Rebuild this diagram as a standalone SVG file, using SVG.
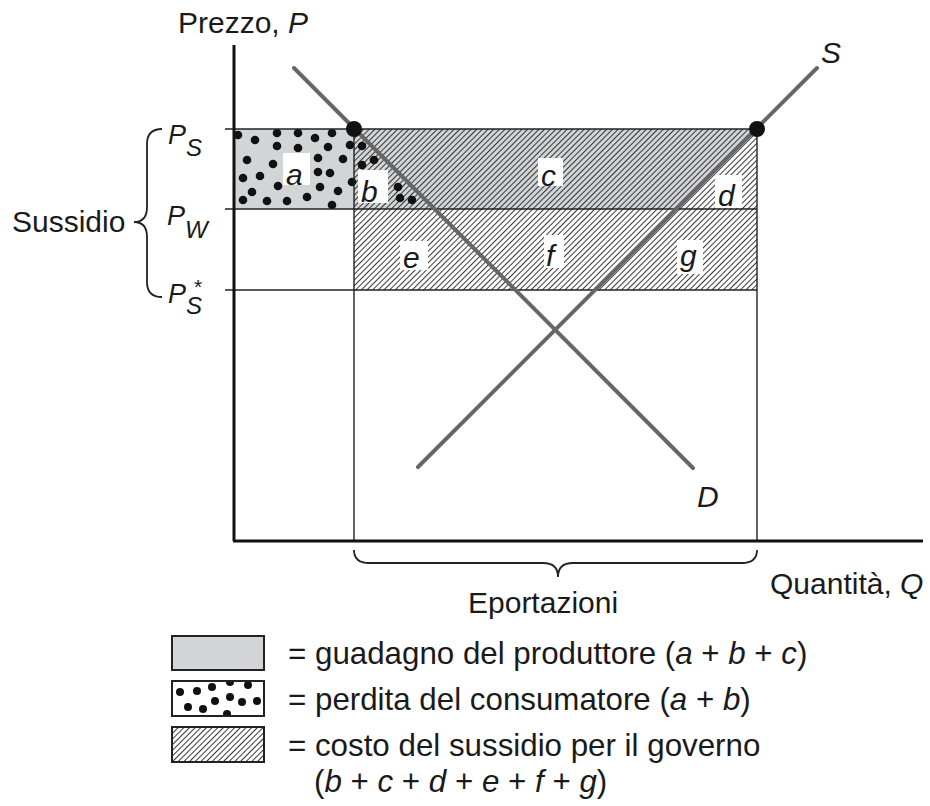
<svg xmlns="http://www.w3.org/2000/svg" width="930" height="806" viewBox="0 0 930 806">
<defs>
<pattern id="hatch" patternUnits="userSpaceOnUse" width="4" height="4" patternTransform="rotate(45)">
<line x1="0.5" y1="0" x2="0.5" y2="4" stroke="#222" stroke-width="0.9"/>
</pattern>
<clipPath id="dotclip"><polygon points="234,129 354,129 435,209 234,209"/></clipPath>
<clipPath id="legclip"><rect x="172" y="681" width="92" height="35"/></clipPath>
</defs>
<style>
text{font-family:"Liberation Sans",Arial,sans-serif;fill:#1a1a1a}
.t{font-size:30px}
.lg{font-size:31.3px}
.i{font-style:italic}
.lbl{font-size:30px;font-style:italic}
.pl{font-size:27px;font-style:italic}
.sub{font-size:24px}
.ax{stroke:#111;stroke-width:3;fill:none}
.thin{stroke:#222;stroke-width:1.4;fill:none}
.curve{stroke:#666;stroke-width:4;fill:none;stroke-linecap:round}
.dot{fill:#111}
.wb{fill:#fff}
.brace{stroke:#222;stroke-width:1.8;fill:none}
</style>
<rect width="930" height="806" fill="#fff"/>

<g id="areas">
<polygon points="234,129 757,129 676,209 234,209" fill="#d3d4d6"/>
<rect x="354" y="129" width="403" height="161" fill="url(#hatch)"/>
<g clip-path="url(#dotclip)">
<circle class="dot" cx="238" cy="135" r="4.3"/><circle class="dot" cx="255" cy="140" r="4.3"/>
<circle class="dot" cx="277" cy="133" r="4.3"/><circle class="dot" cx="298" cy="133" r="4.3"/>
<circle class="dot" cx="315" cy="138" r="4.3"/><circle class="dot" cx="332" cy="133" r="4.3"/>
<circle class="dot" cx="350" cy="145" r="4.3"/><circle class="dot" cx="277" cy="146" r="4.3"/>
<circle class="dot" cx="298" cy="148" r="4.3"/><circle class="dot" cx="328" cy="147" r="4.3"/>
<circle class="dot" cx="362" cy="146" r="4.3"/><circle class="dot" cx="247" cy="160" r="4.3"/>
<circle class="dot" cx="273" cy="164" r="4.3"/><circle class="dot" cx="318" cy="158" r="4.3"/>
<circle class="dot" cx="343" cy="159" r="4.3"/><circle class="dot" cx="362" cy="165" r="4.3"/>
<circle class="dot" cx="374" cy="160" r="4.3"/><circle class="dot" cx="243" cy="178" r="4.3"/>
<circle class="dot" cx="260" cy="176" r="4.3"/><circle class="dot" cx="318" cy="172" r="4.3"/>
<circle class="dot" cx="330" cy="173" r="4.3"/><circle class="dot" cx="278" cy="186" r="4.3"/>
<circle class="dot" cx="320" cy="187" r="4.3"/><circle class="dot" cx="338" cy="191" r="4.3"/>
<circle class="dot" cx="352" cy="182" r="4.3"/><circle class="dot" cx="252" cy="192" r="4.3"/>
<circle class="dot" cx="243" cy="200" r="4.3"/><circle class="dot" cx="267" cy="201" r="4.3"/>
<circle class="dot" cx="287" cy="201" r="4.3"/><circle class="dot" cx="307" cy="197" r="4.3"/>
<circle class="dot" cx="332" cy="205" r="4.3"/><circle class="dot" cx="398" cy="187" r="4.3"/>
<circle class="dot" cx="400" cy="198" r="4.3"/><circle class="dot" cx="412" cy="200" r="4.3"/>
</g>
</g>

<g id="grid">
<line class="thin" x1="225" y1="129" x2="757" y2="129"/>
<line class="thin" x1="225" y1="209" x2="757" y2="209"/>
<line class="thin" x1="225" y1="290" x2="757" y2="290"/>
<line class="thin" x1="354" y1="129" x2="354" y2="541"/>
<line class="thin" x1="757" y1="129" x2="757" y2="541"/>
</g>

<g id="axes">
<line class="ax" x1="234" y1="45" x2="234" y2="541"/>
<line class="ax" x1="233" y1="541" x2="923" y2="541"/>
<text class="t" x="178" y="33">Prezzo, <tspan class="i">P</tspan></text>
<text class="t" x="770" y="594">Quantità, <tspan class="i">Q</tspan></text>
</g>

<g id="connectors">
<line id="demand" class="curve" x1="294" y1="68" x2="693" y2="468"/>
<line id="supply" class="curve" x1="418" y1="467" x2="817" y2="68"/>
<circle cx="354" cy="129" r="8" fill="#111"/>
<circle cx="757" cy="129" r="8" fill="#111"/>
<text class="lbl" x="821" y="63">S</text>
<text class="lbl" x="697" y="507">D</text>
</g>

<g id="region-labels">
<rect class="wb" x="283" y="153" width="27" height="32"/>
<text class="lbl" x="286" y="185">a</text>
<rect class="wb" x="358" y="170" width="30" height="33"/>
<text class="lbl" x="361" y="202">b</text>
<rect class="wb" x="538" y="158" width="25" height="28"/>
<text class="lbl" x="541" y="186">c</text>
<rect class="wb" x="715" y="175" width="27" height="33"/>
<text class="lbl" x="718" y="206">d</text>
<rect class="wb" x="400" y="241" width="28" height="29"/>
<text class="lbl" x="403" y="268">e</text>
<rect class="wb" x="544" y="235" width="20" height="33"/>
<text class="lbl" x="546" y="266">f</text>
<rect class="wb" x="677" y="240" width="26" height="34"/>
<text class="lbl" x="680" y="266">g</text>
</g>

<g id="price-labels">
<text class="pl" x="168" y="144">P<tspan class="sub" dy="12">S</tspan></text>
<text class="pl" x="167" y="225">P<tspan class="sub" dy="13">W</tspan></text>
<text class="pl" x="168" y="303">P<tspan class="sub" dy="11">S</tspan><tspan style="font-size:21px;font-style:normal" dx="-8" dy="-20">*</tspan></text>
</g>

<g id="sussidio">
<path class="brace" d="M162,129 Q147,129 147,144 L147,207 Q147,222 134,222 Q147,222 147,237 L147,282 Q147,297 162,297"/>
<text class="t" x="12" y="232">Sussidio</text>
</g>

<g id="esportazioni">
<path class="brace" d="M354,550 Q354,563 369,563 L543,563 Q558,563 558,577 Q558,563 573,563 L742,563 Q757,563 757,550"/>
<text class="t" x="468" y="613">Eportazioni</text>
</g>

<g id="legend">
<rect x="172" y="636" width="92" height="34" fill="#d3d4d6" stroke="#222" stroke-width="2"/>
<text class="lg" x="288" y="664">= guadagno del produttore (<tspan class="i">a</tspan> + <tspan class="i">b</tspan> + <tspan class="i">c</tspan>)</text>
<rect x="172" y="681" width="92" height="35" fill="#fff"/>
<g clip-path="url(#legclip)">
<circle class="dot" cx="180" cy="692" r="4"/><circle class="dot" cx="197" cy="691" r="4"/>
<circle class="dot" cx="212" cy="687" r="4"/><circle class="dot" cx="230" cy="682" r="4"/>
<circle class="dot" cx="248" cy="685" r="4"/><circle class="dot" cx="188" cy="707" r="4"/>
<circle class="dot" cx="203" cy="709" r="4"/><circle class="dot" cx="215" cy="701" r="4"/>
<circle class="dot" cx="230" cy="697" r="4"/><circle class="dot" cx="242" cy="702" r="4"/>
<circle class="dot" cx="257" cy="701" r="4"/><circle class="dot" cx="227" cy="714" r="4"/>
</g>
<rect x="172" y="681" width="92" height="35" fill="none" stroke="#222" stroke-width="2"/>
<text class="lg" x="288" y="710">= perdita del consumatore (<tspan class="i">a</tspan> + <tspan class="i">b</tspan>)</text>
<rect x="172" y="727" width="92" height="35" fill="url(#hatch)" stroke="#222" stroke-width="2"/>
<text class="lg" x="288" y="756">= costo del sussidio per il governo</text>
<text class="lg" x="314" y="792">(<tspan class="i">b</tspan> + <tspan class="i">c</tspan> + <tspan class="i">d</tspan> + <tspan class="i">e</tspan> + <tspan class="i">f</tspan> + <tspan class="i">g</tspan>)</text>
</g>
</svg>
